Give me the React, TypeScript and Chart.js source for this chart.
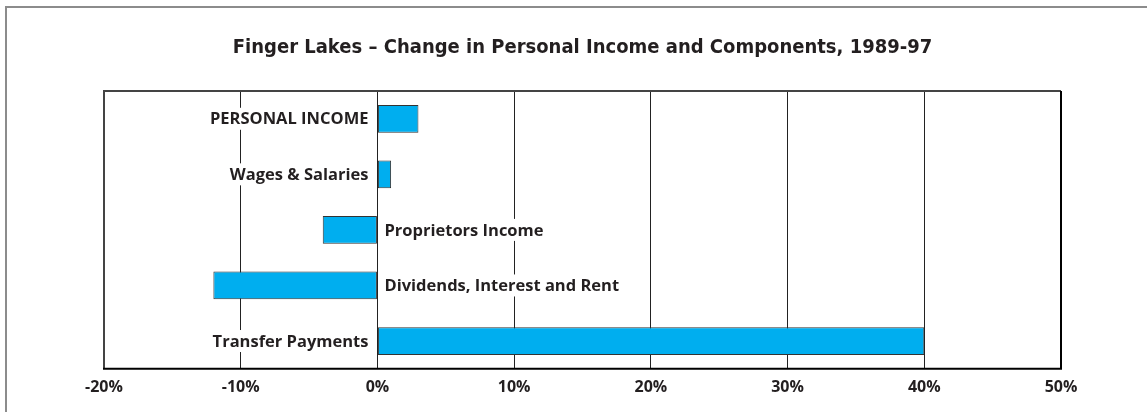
import React, { useEffect, useRef } from "react";
import { Chart, registerables } from "chart.js";

Chart.register(...registerables);

const titleText = "Finger Lakes \u2013 Change in Personal Income and Components, 1989-97";
const categories = [
  "PERSONAL INCOME",
  "Wages & Salaries",
  "Proprietors Income",
  "Dividends, Interest and Rent",
  "Transfer Payments",
];
const changeValues = [3, 1, -4, -12, 40];
const xTicks = [-20, -10, 0, 10, 20, 30, 40, 50];

const TEXT = "#231f20";
const LABEL_FONT = "bold 16.5px 'Open Sans'";

const framePlugin = {
  id: "frame",
  beforeDatasetsDraw(chart: any) {
    const { ctx, chartArea: a } = chart;
    ctx.save();
    ctx.strokeStyle = "#444";
    ctx.lineWidth = 2;
    ctx.beginPath();
    ctx.moveTo(a.left, a.bottom);
    ctx.lineTo(a.left, a.top);
    ctx.lineTo(a.right, a.top);
    ctx.stroke();
    ctx.strokeStyle = "#000";
    ctx.beginPath();
    ctx.moveTo(a.right, a.top);
    ctx.lineTo(a.right, a.bottom);
    ctx.lineTo(a.left - 1, a.bottom);
    ctx.stroke();
    ctx.restore();
  },
};

const labelPlugin = {
  id: "barLabels",
  afterDatasetsDraw(chart: any) {
    const { ctx } = chart;
    const meta = chart.getDatasetMeta(0);
    const x0 = chart.scales.x.getPixelForValue(0);
    ctx.save();
    ctx.font = LABEL_FONT;
    ctx.textBaseline = "middle";
    meta.data.forEach((el: any, i: number) => {
      const v = changeValues[i];
      const text = categories[i];
      const w = ctx.measureText(text).width;
      const y = el.y;
      let xStart: number;
      if (v >= 0) {
        xStart = x0 - 9 - w;
      } else {
        xStart = x0 + 7;
      }
      ctx.fillStyle = "#fff";
      ctx.fillRect(xStart - 4, y - 11, w + 8, 22);
      ctx.fillStyle = TEXT;
      ctx.textAlign = "left";
      ctx.fillText(text, xStart, y + 1);
    });
    ctx.restore();
  },
};

export default function App() {
  const canvasRef = useRef<HTMLCanvasElement | null>(null);

  useEffect(() => {
    if (!canvasRef.current) return;
    const chart = new Chart(canvasRef.current, {
      type: "bar",
      data: {
        labels: categories,
        datasets: [
          {
            data: changeValues,
            backgroundColor: "#00aeef",
            borderColor: "#333",
            borderWidth: 1,
            borderSkipped: false,
            barPercentage: 0.5,
            categoryPercentage: 1,
          },
        ],
      },
      options: {
        indexAxis: "y",
        animation: false,
        responsive: true,
        maintainAspectRatio: false,
        layout: { padding: { left: 104, right: 86, top: 0, bottom: 6 } },
        plugins: {
          legend: { display: false },
          tooltip: { enabled: false },
          title: {
            display: true,
            text: titleText,
            color: TEXT,
            font: { family: "'DejaVu Sans Condensed'", size: 20, weight: "bold" },
            padding: { top: 36, bottom: 31 },
          },
        },
        scales: {
          y: {
            type: "category",
            display: false,
            offset: true,
            grid: { display: false },
          },
          x: {
            type: "linear",
            min: -20,
            max: 50,
            afterBuildTicks(scale: any) {
              scale.ticks = xTicks.map((v) => ({ value: v }));
            },
            grid: {
              color: "#222",
              lineWidth: 1,
              drawTicks: false,
            },
            border: { display: false },
            ticks: {
              padding: 9,
              color: TEXT,
              font: { family: "'Open Sans'", size: 16, weight: "bold" },
              callback: (v: any) => v + "%",
            },
          },
        },
      },
      plugins: [framePlugin, labelPlugin],
    });
    return () => chart.destroy();
  }, []);

  return (
    <>
      <div
        style={{
          position: "fixed",
          left: 5,
          top: 6,
          width: 1142,
          height: 406,
          borderTop: "2px solid #8c8c8c",
          borderLeft: "2px solid #8c8c8c",
          boxSizing: "border-box",
        }}
      />
      <div style={{ position: "fixed", left: 0, top: 0, width: 1147, height: 412 }}>
        <canvas ref={canvasRef} />
      </div>
    </>
  );
}
